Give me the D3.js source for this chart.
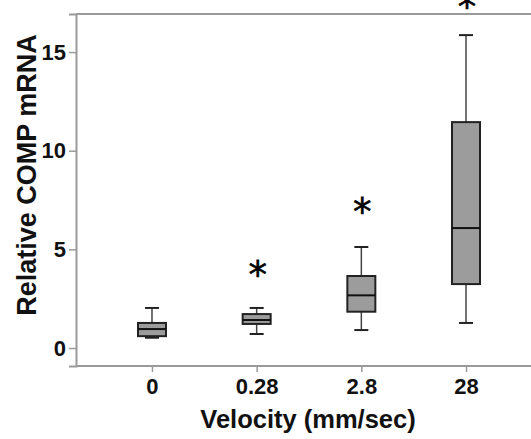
<!DOCTYPE html>
<html>
<head>
<meta charset="utf-8">
<script src="https://cdn.jsdelivr.net/npm/d3@7"></script>
<style>
  body { margin: 0; background: #fff; }
  svg { display: block; }
</style>
</head>
<body>
<div id="chart"></div>
<script>
// box plot values (relative COMP mRNA)
var velocities = ['0', '0.28', '2.8', '28'];
var whiskerLow = [0.52, 0.71, 0.91, 1.27];
var q1 = [0.60, 1.22, 1.84, 3.24];
var median = [0.96, 1.42, 2.67, 6.08];
var q3 = [1.27, 1.72, 3.65, 11.45];
var whiskerHigh = [2.03, 2.03, 5.12, 15.86];
// significance stars, value where the star sits
var starVelocity = ['0.28', '2.8', '28'];
var starValue = [4.0, 7.22, 17.6];
var yTicks = [0, 5, 10, 15];

var width = 531, height = 439;
var font = "'Liberation Sans', Arial, sans-serif";

var svg = d3.select('#chart')
    .append('svg')
    .attr('width', width)
    .attr('height', height);

var x = d3.scalePoint()
    .domain(velocities)
    .range([76, 542])
    .padding(0.726);

var y = d3.scaleLinear()
    .domain([-0.912, 16.93])
    .range([366, 14]);

// frame top line (right side runs off the picture)
svg.append('line')
    .attr('x1', 76).attr('x2', width)
    .attr('y1', y.range()[1]).attr('y2', y.range()[1])
    .attr('stroke', '#9a9a9a')
    .attr('stroke-width', 2);

var yAxis = svg.append('g')
    .attr('transform', 'translate(76,0)')
    .call(d3.axisLeft(y).tickValues(yTicks).tickSize(7).tickPadding(3));

var xAxis = svg.append('g')
    .attr('transform', 'translate(0,366)')
    .call(d3.axisBottom(x).tickSize(6).tickPadding(6));

[yAxis, xAxis].forEach(function(ax) {
    ax.select('.domain').attr('stroke', '#9a9a9a').attr('stroke-width', 2);
    ax.selectAll('.tick line').attr('stroke', '#9a9a9a').attr('stroke-width', 1.5);
    ax.selectAll('.tick text')
        .attr('fill', '#111')
        .style('font-family', font)
        .style('font-weight', 'bold')
        .style('font-size', '22px');
});
xAxis.select('.domain').attr('d', 'M76,0H' + width);

var boxW = 28, capW = 14;
var boxes = svg.append('g')
    .selectAll('g')
    .data(velocities)
    .join('g');

// whisker stems
boxes.append('line')
    .attr('x1', d => x(d)).attr('x2', d => x(d))
    .attr('y1', (d, i) => y(whiskerHigh[i]))
    .attr('y2', (d, i) => y(q3[i]))
    .attr('stroke', '#444').attr('stroke-width', 1.5);
boxes.append('line')
    .attr('x1', d => x(d)).attr('x2', d => x(d))
    .attr('y1', (d, i) => y(q1[i]))
    .attr('y2', (d, i) => y(whiskerLow[i]))
    .attr('stroke', '#444').attr('stroke-width', 1.5);

// caps
boxes.append('line')
    .attr('x1', d => x(d) - capW / 2).attr('x2', d => x(d) + capW / 2)
    .attr('y1', (d, i) => y(whiskerHigh[i]))
    .attr('y2', (d, i) => y(whiskerHigh[i]))
    .attr('stroke', '#222').attr('stroke-width', 2);
boxes.append('line')
    .attr('x1', d => x(d) - capW / 2).attr('x2', d => x(d) + capW / 2)
    .attr('y1', (d, i) => y(whiskerLow[i]))
    .attr('y2', (d, i) => y(whiskerLow[i]))
    .attr('stroke', '#222').attr('stroke-width', 2);

boxes.append('rect')
    .attr('x', d => x(d) - boxW / 2)
    .attr('width', boxW)
    .attr('y', (d, i) => y(q3[i]))
    .attr('height', (d, i) => y(q1[i]) - y(q3[i]))
    .attr('fill', '#9c9c9c')
    .attr('stroke', '#222')
    .attr('stroke-width', 2);

boxes.append('line')
    .attr('x1', d => x(d) - boxW / 2).attr('x2', d => x(d) + boxW / 2)
    .attr('y1', (d, i) => y(median[i]))
    .attr('y2', (d, i) => y(median[i]))
    .attr('stroke', '#111').attr('stroke-width', 2);

// stars (the top one is cut by the picture edge, as in the original)
svg.append('g')
    .selectAll('text')
    .data(starVelocity)
    .join('text')
    .attr('x', d => x(d) + 1)
    .attr('y', (d, i) => y(starValue[i]) + 19)
    .attr('text-anchor', 'middle')
    .style('font-family', "'DejaVu Sans', sans-serif")
    .style('font-size', '37px')
    .attr('fill', '#000')
    .attr('stroke', '#000')
    .attr('stroke-width', 0.6)
    .text('*');

// axis titles
svg.append('text')
    .attr('transform', 'translate(36,175) rotate(-90)')
    .attr('text-anchor', 'middle')
    .style('font-family', font)
    .style('font-weight', 'bold')
    .style('font-size', '27px')
    .attr('fill', '#111')
    .text('Relative COMP mRNA');

svg.append('text')
    .attr('x', 308)
    .attr('y', 428)
    .attr('text-anchor', 'middle')
    .style('font-family', font)
    .style('font-weight', 'bold')
    .style('font-size', '25.5px')
    .attr('fill', '#111')
    .text('Velocity (mm/sec)');
</script>
</body>
</html>
